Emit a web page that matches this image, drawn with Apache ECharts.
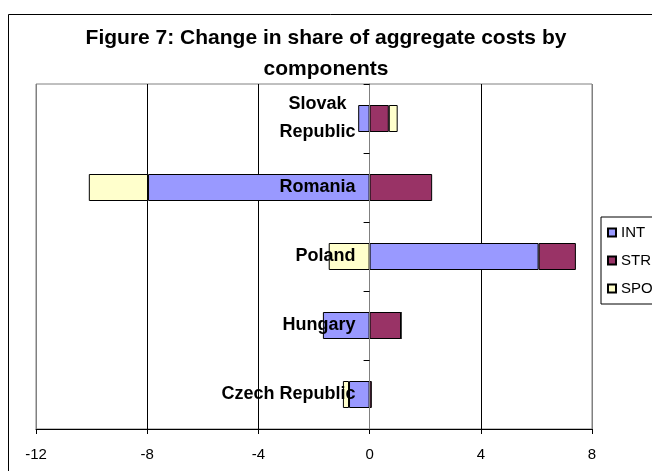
<!DOCTYPE html>
<html>
<head>
<meta charset="utf-8">
<script src="https://cdn.jsdelivr.net/npm/echarts@6/dist/echarts.min.js"></script>
<style>
  html, body { margin: 0; padding: 0; background: #fff; }
  #chart { width: 652px; height: 471px; }
</style>
</head>
<body>
<div id="chart"></div>
<script>
// countries, bottom to top as drawn
const countries = ['Czech Republic', 'Hungary', 'Poland', 'Romania', 'Slovak Republic'];
const intValues = [-0.74, -1.68, 6.08, -7.97, -0.41];
const strValues = [0.08, 1.13, 1.34, 2.25, 0.69];
const spoValues = [-0.22, 0, -1.47, -2.13, 0.32];
const xTicks = [-12, -8, -4, 0, 4, 8];

const font = 'Arial, "Liberation Sans", sans-serif';
const myChart = echarts.init(document.getElementById('chart'));

const gridLeft = 36, gridRight = 60;
const plotWidth = 652 - gridLeft - gridRight;
const xMin = xTicks[0], xMax = xTicks[xTicks.length - 1];
// move the category axis over to x = 0
const zeroOffset = -plotWidth * (0 - xMin) / (xMax - xMin);

const bar = (name, data, color) => ({
  name: name,
  type: 'bar',
  stack: 'total',
  data: data,
  barWidth: 27,
  itemStyle: { color: color, borderColor: '#000', borderWidth: 1 },
  emphasis: { disabled: true }
});

const option = {
  animation: false,
  title: {
    text: 'Figure 7: Change in share of aggregate costs by\ncomponents',
    left: 'center',
    top: 18,
    textStyle: { fontFamily: font, fontSize: 21, fontWeight: 'bold', color: '#000', lineHeight: 31 }
  },
  legend: {
    orient: 'vertical',
    left: 601,
    top: 217,
    padding: [8, 14, 8, 6],
    itemGap: 13,
    itemWidth: 8,
    itemHeight: 8,
    icon: 'rect',
    borderColor: '#000',
    borderWidth: 1,
    textStyle: { fontFamily: font, fontSize: 15, color: '#000' },
    data: ['INT', 'STR', 'SPO']
  },
  graphic: [{
    type: 'rect',
    shape: { x: 8.5, y: 14.5, width: 700, height: 500 },
    style: { fill: 'none', stroke: '#000', lineWidth: 1 },
    silent: true
  }],
  grid: {
    left: gridLeft,
    right: gridRight,
    top: 84,
    bottom: 42,
    containLabel: false,
    outerBoundsMode: 'none',
    show: true,
    borderColor: '#808080',
    borderWidth: 1
  },
  xAxis: {
    type: 'value',
    min: xMin,
    max: xMax,
    interval: 4,
    axisLine: { show: true, lineStyle: { color: '#000' } },
    axisTick: { show: true, length: 5, lineStyle: { color: '#000' } },
    axisLabel: { fontFamily: font, fontSize: 15, color: '#000', margin: 18 },
    splitLine: { lineStyle: { color: ['#808080', '#000', '#000', '#808080', '#000', '#808080'] } }
  },
  yAxis: {
    type: 'category',
    data: countries,
    z: 5,
    offset: zeroOffset,
    axisLine: { onZero: false, lineStyle: { color: '#808080' } },
    axisTick: { show: true, length: 6, lineStyle: { color: '#000' } },
    axisLabel: {
      fontFamily: font,
      fontSize: 18,
      fontWeight: 'bold',
      color: '#000',
      margin: 14,
      formatter: v => v === 'Slovak Republic' ? '{c|Slovak}\n{c|Republic}' : v,
      rich: { c: { align: 'center', fontFamily: font, fontSize: 18, fontWeight: 'bold', color: '#000', lineHeight: 28 } }
    },
    splitLine: { show: false }
  },
  series: [
    bar('INT', intValues, '#9999FF'),
    bar('STR', strValues, '#993366'),
    bar('SPO', spoValues, '#FFFFCC')
  ]
};

myChart.setOption(option);
</script>
</body>
</html>
